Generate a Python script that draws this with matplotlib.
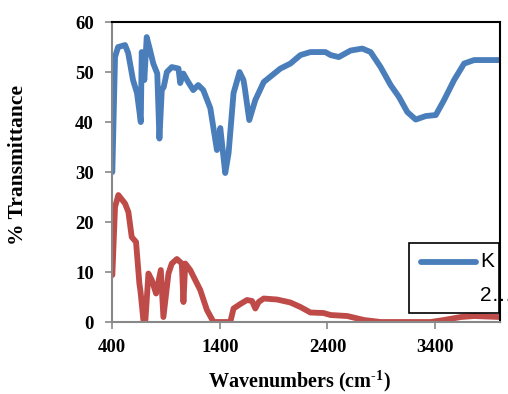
import matplotlib.pyplot as plt
from matplotlib.patches import Rectangle

plt.rcParams['mathtext.fontset'] = 'custom'
plt.rcParams['mathtext.rm'] = 'Liberation Serif:bold'
plt.rcParams['mathtext.it'] = 'Liberation Serif:bold'
plt.rcParams['mathtext.bf'] = 'Liberation Serif:bold'

# FTIR spectra, % transmittance vs wavenumber
wn_k = [403, 428, 456, 521, 550, 595, 632, 667, 676, 700, 722, 753, 783, 820, 840,
        862, 880, 909, 955, 1017, 1033, 1062, 1107, 1154, 1200, 1247, 1312, 1374,
        1405, 1451, 1482, 1528, 1584, 1620, 1631, 1674, 1730, 1808, 1963, 2056,
        2149, 2242, 2381, 2428, 2505, 2614, 2723, 2800, 2893, 2986, 3064, 3141,
        3219, 3312, 3405, 3482, 3575, 3668, 3761, 4000]
t_k = [30, 53, 55, 55.4, 53.8, 48.4, 45.8, 40, 54, 48.4, 57, 54.4, 51.7, 49.7, 36.7,
       46.4, 47, 50, 51, 50.7, 47.8, 49.7, 48, 46.4, 47.4, 46.4, 42.8, 34.4,
       38.8, 29.8, 33.8, 45.8, 50, 48.4, 47, 40.4, 44.4, 48, 50.7, 51.7,
       53.4, 54, 54, 53.4, 53, 54.3, 54.7, 54, 51, 47.4, 45, 42,
       40.5, 41.2, 41.4, 44.4, 48.4, 51.7, 52.4, 52.4]

wn_2 = [403, 428, 459, 521, 552, 583, 623, 654, 665, 691, 710, 738, 769, 809, 853,
        877, 924, 955, 1002, 1048, 1063, 1080, 1126, 1219, 1281, 1342, 1498, 1528,
        1591, 1653, 1700, 1730, 1761, 1808, 1932, 2056, 2149, 2242, 2363, 2428,
        2583, 2738, 2893, 3358, 3482, 3637, 3761, 4000]
t_2 = [9.4, 23, 25.4, 23.7, 22, 17, 16, 7.7, 6, 0.4, 0.4, 9.7, 8.4, 5.7, 10.4,
       1, 9.7, 11.7, 12.6, 11.7, 4, 11.7, 10.4, 6.4, 2.4, 0, 0, 2.7,
       3.6, 4.4, 4.2, 2.7, 4, 4.7, 4.5, 3.9, 3, 1.9, 1.8, 1.4,
       1.2, 0.4, 0, 0, 0.4, 1, 1.2, 1]

fig = plt.figure(figsize=(5.08, 3.94), dpi=100)
ax = fig.add_axes([0.2205, 0.1827, 0.7635, 0.7613])

ax.plot(wn_k, t_k, color='#4a7ebb', lw=4.2, solid_joinstyle='round', solid_capstyle='round')
ax.plot(wn_2, t_2, color='#be4b48', lw=4.2, solid_joinstyle='round', solid_capstyle='round')

ax.set_xlim(400, 4000)
ax.set_ylim(0, 60)
ax.set_xticks([400, 1400, 2400, 3400])
ax.set_yticks(range(0, 61, 10))

for lab in ax.get_xticklabels() + ax.get_yticklabels():
    lab.set_family('Liberation Serif')
    lab.set_fontweight('bold')
    lab.set_fontsize(13.5)
ax.tick_params(axis='both', color='#888888', length=5, width=1.2, direction='out')
ax.tick_params(axis='x', pad=7)
ax.tick_params(axis='y', pad=8)

for side in ['left', 'bottom']:
    ax.spines[side].set_color('#888888')
    ax.spines[side].set_linewidth(1.5)
for side in ['top', 'right']:
    ax.spines[side].set_color('black')
    ax.spines[side].set_linewidth(1.5)

ax.set_xlabel(r'Wavenumbers (cm$^{\text{-1}}$)', family='Liberation Serif',
              fontweight='bold', fontsize=14.5)
ax.xaxis.set_label_coords(0.482, -0.155)
ax.set_ylabel('% Transmittance', family='Liberation Serif', fontweight='bold',
              fontsize=15.5)
ax.yaxis.set_label_coords(-0.2165, 0.523)

# legend box drawn by hand (second label is cut off)
ax.add_patch(Rectangle((0.765, 0.03), 0.232, 0.233, transform=ax.transAxes,
                       fill=True, facecolor='white', edgecolor='black', lw=1.2,
                       zorder=5, clip_on=False))
ax.plot([0.797, 0.939], [0.201, 0.201], transform=ax.transAxes, color='#4a7ebb',
        lw=4.2, solid_capstyle='round', zorder=6, clip_on=False)
ax.text(0.949, 0.201, 'K', transform=ax.transAxes, family='Liberation Sans',
        fontsize=15, va='center', ha='left', zorder=7)
ax.text(0.949, 0.09, '2\u2026', transform=ax.transAxes, family='Liberation Sans',
        fontsize=15, va='center', ha='left', zorder=7, clip_on=False)

fig.savefig('out.png', dpi=100)
